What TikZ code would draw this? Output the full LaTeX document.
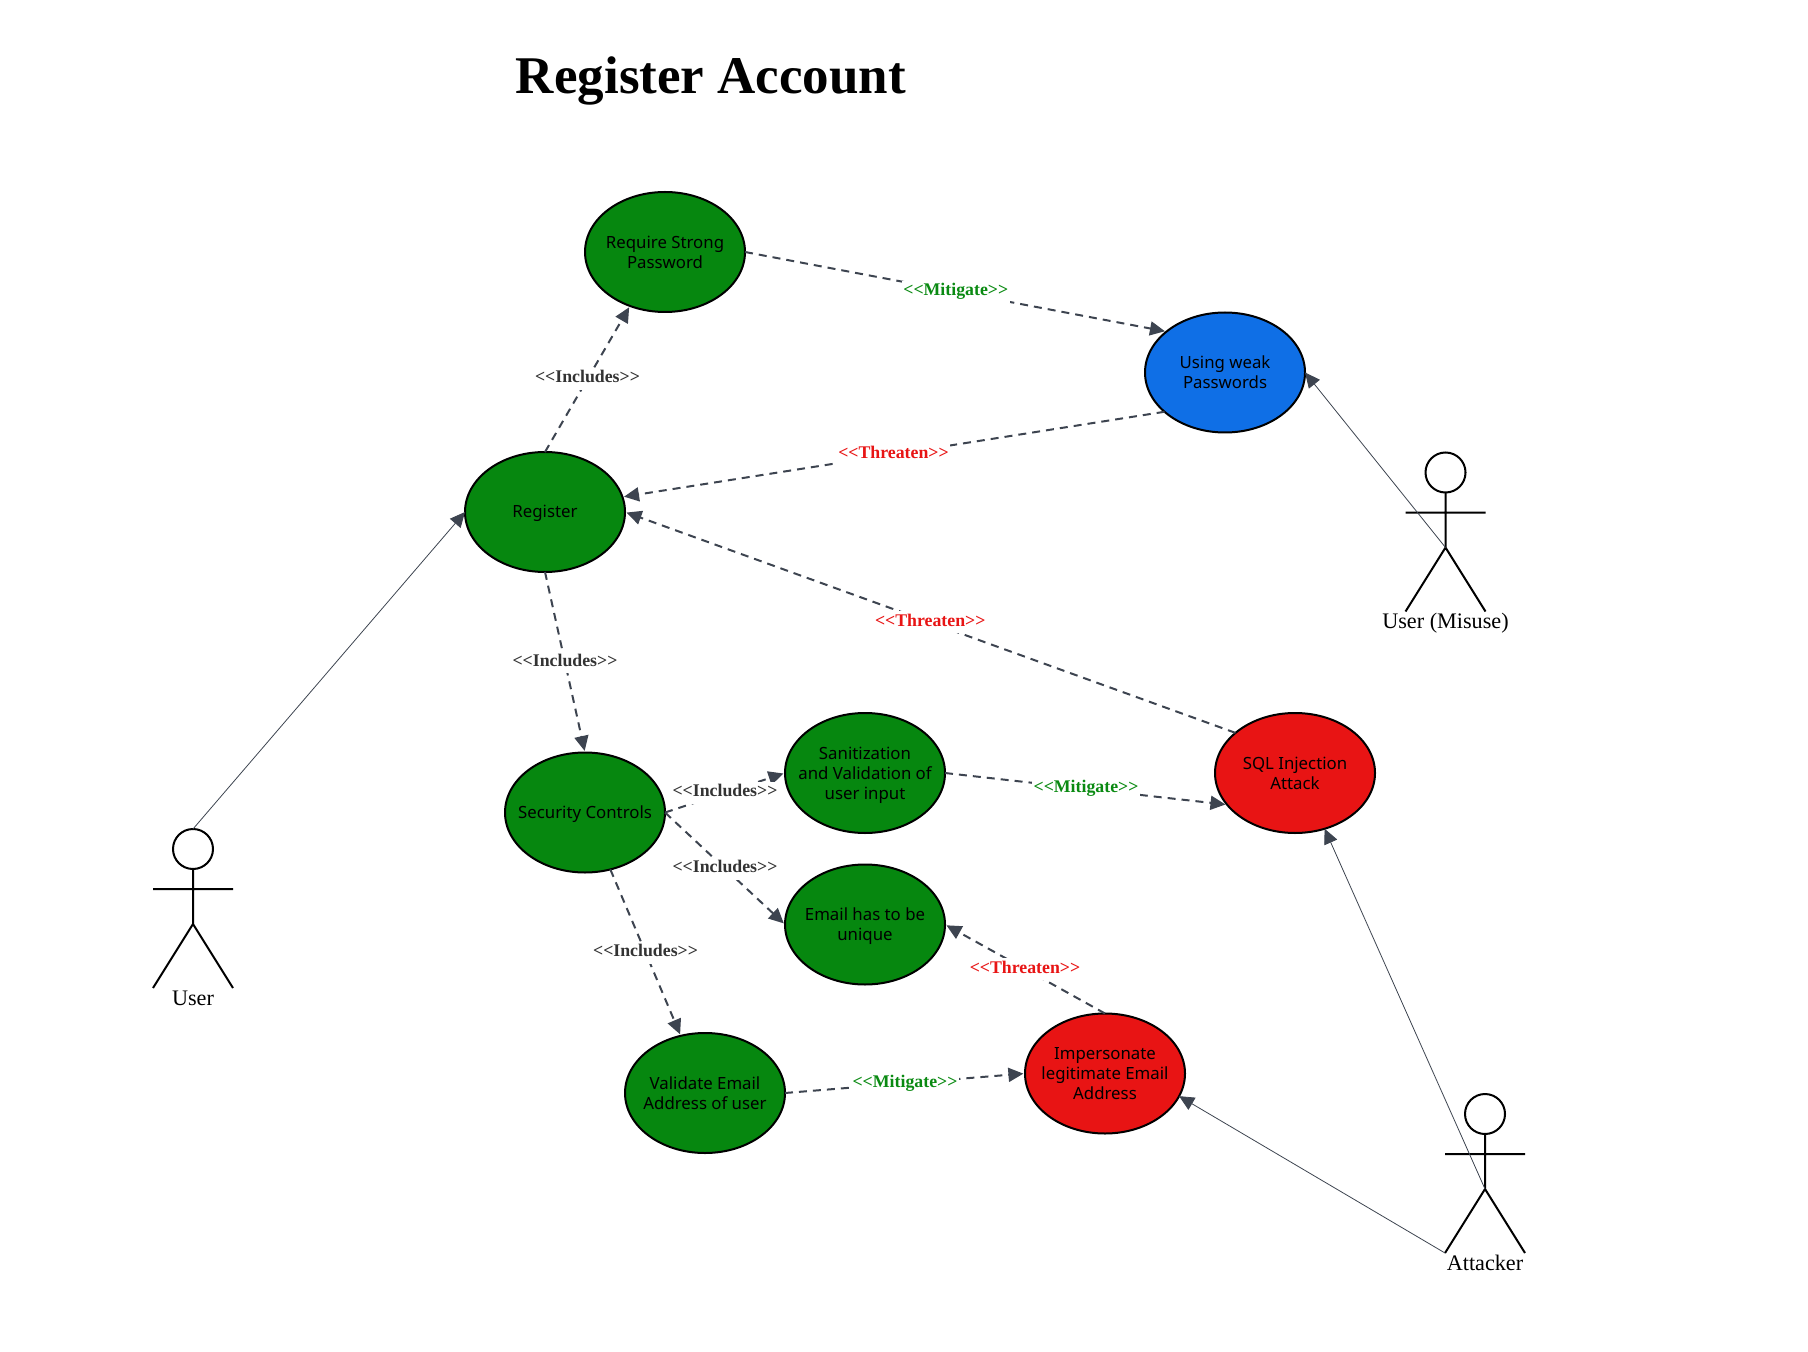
\documentclass[tikz,border=0pt]{standalone}
\usepackage{fontspec}
\usetikzlibrary{shapes.geometric,arrows.meta}
\newfontfamily\serifface{Liberation Serif}
\newfontfamily\caseface{Noto Sans}
\definecolor{casegreen}{HTML}{06870F}
\definecolor{caseblue}{HTML}{0F6FE6}
\definecolor{casered}{HTML}{E81414}
\definecolor{linkgray}{HTML}{3D4450}
\definecolor{mitgreen}{HTML}{0A8A12}
\tikzset{
 case/.style={ellipse,draw=black,line width=1pt,fill=#1,minimum width=80pt,minimum height=60pt,
  inner sep=-15pt,outer sep=0pt,align=center,font=\caseface\fontsize{8.4}{10}\selectfont,
  execute at begin node={\rule{0pt}{8pt}}},
 stackcase/.style={case=#1,text depth=-0.8pt},
 link/.style={draw=linkgray,line width=1pt,dash pattern=on 4pt off 3pt,shorten >=0.8pt,-{Triangle[length=7.5pt,width=7pt]}},
 assoc/.style={draw=linkgray,line width=0.4pt,-{Triangle[length=7.5pt,width=7pt]}},
 tag/.style={midway,fill=white,inner xsep=0.7pt,inner ysep=1pt,text height=6.5pt,text depth=2.5pt,
  font=\serifface\bfseries\fontsize{8.9}{10}\selectfont,text=#1},
 limb/.style={line width=1pt,black}
}
\begin{document}
\begin{tikzpicture}[x=0.5pt,y=-0.5pt]
\useasboundingbox (0,0) rectangle (1808,1352);
\node (title) at (711,81) {\serifface\bfseries\fontsize{26.5}{30}\selectfont Register Account};
% use cases
\node[stackcase=casegreen] (require) at (665,252) {Require Strong\\Password};
\node[case=casegreen] (register) at (545,512) {Register};
\node[stackcase=caseblue] (weak) at (1225,372.5) {Using weak\\Passwords};
\node[case=casegreen] (security) at (585,812.5) {Security Controls};
\node[stackcase=casegreen] (sanitize) at (865,773) {Sanitization\\and Validation of\\user input};
\node[stackcase=casegreen] (unique) at (865,924.5) {Email has to be\\unique};
\node[stackcase=casegreen] (validate) at (705,1093) {Validate Email\\Address of user};
\node[stackcase=casered] (impersonate) at (1105,1073.5) {Impersonate\\legitimate Email\\Address};
\node[stackcase=casered] (sql) at (1295,773) {SQL Injection\\Attack};
% actors
\foreach \n/\x/\y/\t in {user/193/849/User,misuse/1445.5/472.5/{User (Misuse)},attacker/1485/1114/Attacker}{
 \node[circle,draw,line width=1pt,minimum size=20pt,inner sep=0pt,outer sep=0pt] (\n head) at (\x,\y) {};
 \coordinate (\n hip) at (\x,\y+75);
 \coordinate (\n foot) at (\x-40,\y+139);
 \draw[limb] (\n head.south)--(\n hip)--(\n foot) (\n hip)--(\x+40,\y+139) (\x-40,\y+40)--(\x+40,\y+40);
 \node[anchor=base,inner sep=0pt,font=\serifface\fontsize{11.1}{13}\selectfont] (\n label) at (\x,\y+156) {\t};
}
% includes
\draw[link] (register.north)--(require.237) node[tag=black!80]{<<Includes>>};
\draw[link] (register.south)--(security.north) node[tag=black!80]{<<Includes>>};
\draw[link] (security.east)--(sanitize.west) node[tag=black!80]{<<Includes>>};
\draw[link] (security.east)--(unique.west) node[tag=black!80]{<<Includes>>};
\draw[link] (security.-66.6)--(validate.113) node[tag=black!80]{<<Includes>>};
% mitigate
\draw[link] (require.east)--(weak.145) node[tag=mitgreen]{<<Mitigate>>};
\draw[link] (sanitize.east)--(sql.205) node[tag=mitgreen]{<<Mitigate>>};
\draw[link] (validate.east)--(impersonate.west) node[tag=mitgreen]{<<Mitigate>>};
% threaten
\draw[link] (weak.213.7)--(register.11.5) node[tag=casered]{<<Threaten>>};
\draw[link] (sql.146)--(register.east) node[tag=casered]{<<Threaten>>};
\draw[link] (impersonate.north)--(unique.east) node[tag=casered]{<<Threaten>>};
% associations
\draw[assoc] (userhead.north)--(register.west);
\draw[assoc] (misusehip)--(weak.east);
\draw[assoc] (attackerhip)--(sql.-62);
\draw[assoc] (attackerfoot)--(impersonate.-17.5);
\end{tikzpicture}
\end{document}
